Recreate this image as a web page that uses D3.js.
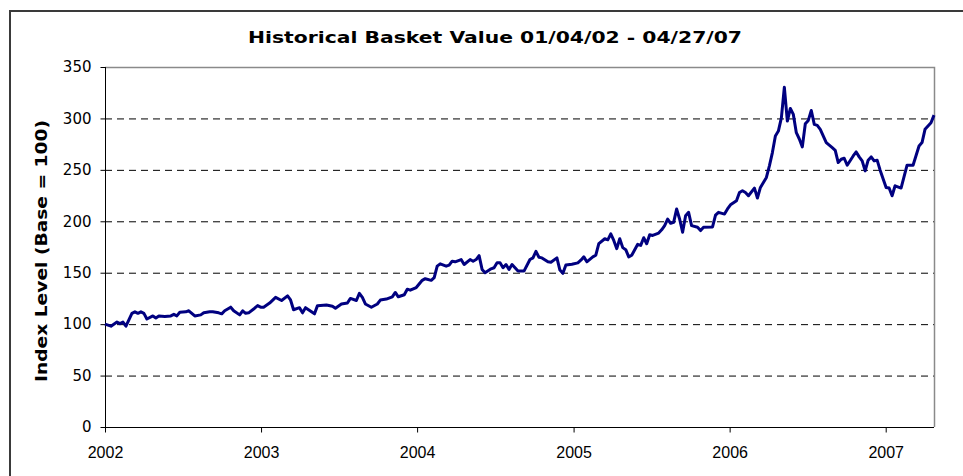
<!DOCTYPE html>
<html><head><meta charset="utf-8">
<script src="https://cdn.jsdelivr.net/npm/d3@7"></script>
<style>body{margin:0;background:#fff}svg{display:block}</style>
</head><body><svg id="c" width="963" height="476"></svg>
<script>
const chartTitle = "Historical Basket Value 01/04/02 - 04/27/07";
const yAxisTitle = "Index Level (Base = 100)";
const startDate = "2002-01-04";
const endDate = "2007-04-27";
// weekly observations: week number since 01/04/02 and index level
const weekNo = [0,2,4,5,6,7,9,10,11,12,13,14,16,17,18,20,22,23,24,25,27,28,30,32,33,35,36,38,39,40,42,43,45,46,47,48,50,51,52,53,55,57,59,61,62,63,65,66,67,68,70,71,74,76,77,79,81,82,84,85,86,87,89,91,92,94,96,97,98,100,101,102,104,106,107,109,110,111,112,114,115,116,117,119,120,122,123,124,125,126,127,129,130,131,132,133,134,135,136,138,140,142,143,144,145,146,148,149,151,152,153,154,156,158,159,160,161,163,164,165,167,168,169,170,171,172,173,174,175,176,178,179,180,181,182,183,185,186,187,188,189,190,191,192,193,194,195,196,198,199,200,203,204,205,207,208,209,211,212,213,214,215,217,218,219,220,221,222,223,224,225,226,227,228,229,230,231,232,233,234,235,236,237,238,239,241,243,244,245,246,247,248,250,251,252,253,254,255,256,257,258,259,261,262,263,264,266,268,270,272,273,274,276,277];
const indexValue = [100,98,102,100.5,102,98,110.5,112,110.5,112,110.5,105,108,106,108,107.5,108,109.5,108,111.5,112,113,108,109,111,112,112,111,110,113,116.5,113,109,113,110.5,111,115.5,118,116.5,116.5,120.5,126,123,127.5,123.5,114,116,111,116,114,110,118,118.6,117.4,115.5,119.6,120.6,125,123,130,126,119.6,116.4,119.6,123.4,124.4,126.6,130.8,126.6,128.6,134,133,135.6,142.6,144.2,142.6,145.2,156.4,158.6,156.4,157.4,161.2,160.6,162.8,158,162.8,161.2,162.8,166.6,153.2,150,153.8,154.8,159.6,159.6,154.8,158,153.2,158,151.6,151.6,162.8,164.4,170.8,165,164.4,160.6,160.2,164.4,152.6,149.4,157.4,158.3,159.6,162.2,165.4,160.6,165.4,167,178.2,183,182,187.8,181.4,173.4,183,174.4,172.4,165.4,167,177.6,176.6,184,178.2,186.9,186.2,188.5,191.7,195.8,202.2,198,199,211.9,202.2,189.4,205.4,208.7,195.8,194.2,191,194.2,194.5,206,208.7,207,212,216,220,228,229.7,228,224.8,232.3,222.6,232.9,237.7,242.6,253.9,266.8,282.9,287.7,300.6,330.3,297.4,309.7,303.9,286.1,280,272.3,294.8,298.1,307.7,294.2,293.2,289.4,276.5,271.6,269,257.1,260.3,261.3,254.5,263.5,267.4,262.6,258.7,249,259.4,262.6,258.7,259.4,249.7,232.9,232.3,224.8,234.5,232.3,254.5,254.5,273.2,276.5,289.4,295.8,303.2];
const yTicks = [0,50,100,150,200,250,300,350];
const xTickLabels = ["2002","2003","2004","2005","2006","2007"];

const svg = d3.select("#c");
const W = 963, H = 476;
const plot = {left:105, top:67, right:934, bottom:427};

const parse = d3.timeParse("%Y-%m-%d");
const t0 = parse(startDate), t1 = parse(endDate);
const data = weekNo.map((w,i)=>({date:d3.timeDay.offset(t0, 7*w), value:indexValue[i]}));

const x = d3.scaleTime().domain([t0,t1]).range([plot.left, plot.right]);
const y = d3.scaleLinear().domain([0,350]).range([plot.bottom, plot.top]);

// outer frame
svg.append("rect").attr("x",10).attr("y",11).attr("width",1000).attr("height",500)
  .attr("fill","none").attr("stroke","#3a3a3a").attr("stroke-width",2);

// title
svg.append("text").attr("x",495).attr("y",43).attr("text-anchor","middle")
  .attr("font-family","DejaVu Sans, Verdana, sans-serif").attr("font-weight","bold")
  .attr("font-size",15).attr("textLength",494).attr("lengthAdjust","spacingAndGlyphs")
  .attr("fill","#000").text(chartTitle);

// gridlines
svg.append("g").selectAll("line").data(yTicks.filter(v=>v>0 && v<350)).join("line")
  .attr("x1",plot.left).attr("x2",plot.right)
  .attr("y1",d=>y(d)+0.5).attr("y2",d=>y(d)+0.5)
  .attr("stroke","#000").attr("stroke-width",1).attr("stroke-dasharray","7,5");

// plot border top/right
svg.append("path")
  .attr("d",`M${plot.left},${plot.top+0.5}H${plot.right+0.5}V${plot.bottom}`)
  .attr("fill","none").attr("stroke","#8a8a8a").attr("stroke-width",1.5);

// y axis
const yAxis = d3.axisLeft(y).tickValues(yTicks).tickSize(5).tickPadding(9).tickFormat(d3.format("d"));
const gy = svg.append("g").attr("transform",`translate(${plot.left+0.5},0)`).call(yAxis);
gy.select(".domain").attr("stroke","#000").attr("d",`M0,${plot.top}V${plot.bottom}`);
gy.selectAll(".tick line").attr("stroke","#000");
gy.selectAll(".tick text").attr("font-family","DejaVu Sans, Verdana, sans-serif").attr("font-size",15).attr("fill","#000");

// x axis
const xTickDates = xTickLabels.map(s=>parse(s+"-01-04"));
const xAxis = d3.axisBottom(x).tickValues(xTickDates).tickSize(5).tickPadding(14)
  .tickFormat((d,i)=>xTickLabels[i]);
const gx = svg.append("g").attr("transform",`translate(0,${plot.bottom+0.5})`).call(xAxis);
gx.select(".domain").attr("stroke","#000").attr("d",`M${plot.left},0H${plot.right}`);
gx.selectAll(".tick line").attr("stroke","#000");
gx.selectAll(".tick text").attr("font-family","Liberation Sans, Arial, sans-serif").attr("font-size",16).attr("fill","#000");

// y title
svg.append("text").attr("transform","translate(47,251) rotate(-90)").attr("text-anchor","middle")
  .attr("font-family","DejaVu Sans, Verdana, sans-serif").attr("font-weight","bold")
  .attr("font-size",15).attr("textLength",262).attr("lengthAdjust","spacingAndGlyphs")
  .attr("fill","#000").text(yAxisTitle);

// line
const line = d3.line().x(d=>x(d.date)).y(d=>y(d.value));
svg.append("path").datum(data).attr("d",line).attr("fill","none")
  .attr("stroke","#000080").attr("stroke-width",3).attr("stroke-linejoin","round");
</script>
</body></html>
